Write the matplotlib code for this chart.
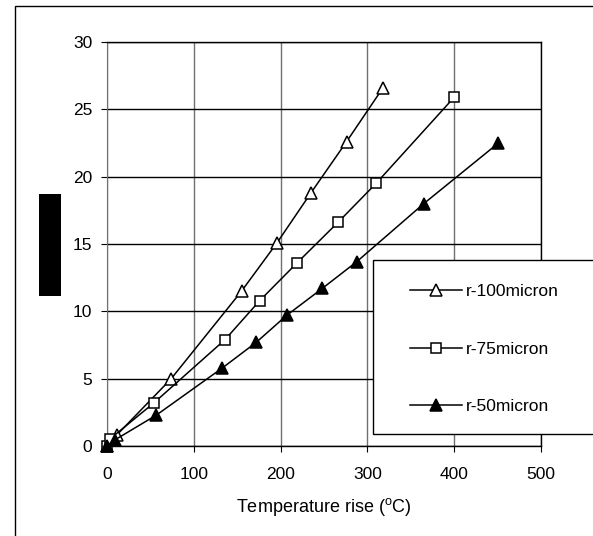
import matplotlib
matplotlib.use('Agg')
import matplotlib.pyplot as plt
from matplotlib.patches import Rectangle

plt.rcParams['font.family'] = ['Liberation Sans', 'DejaVu Sans']
plt.rcParams['mathtext.fontset'] = 'custom'
plt.rcParams['mathtext.rm'] = 'Liberation Sans'

# temperature rise (C) and values
t_100 = [0, 11, 74, 155, 196, 235, 276, 318]
v_100 = [0, 0.8, 5.0, 11.5, 15.1, 18.8, 22.6, 26.6]

t_75 = [0, 3, 54, 136, 176, 219, 266, 310, 400]
v_75 = [0, 0.5, 3.2, 7.9, 10.8, 13.6, 16.6, 19.5, 25.9]

t_50 = [0, 9, 57, 133, 172, 207, 248, 288, 365, 451]
v_50 = [0, 0.45, 2.3, 5.8, 7.7, 9.7, 11.7, 13.7, 18.0, 22.5]

labels = ['r-100micron', 'r-75micron', 'r-50micron']
xticks = [0, 100, 200, 300, 400, 500]
yticks = [0, 5, 10, 15, 20, 25, 30]

W, H = 593, 536
fig = plt.figure(figsize=(W / 100, H / 100), dpi=100)
ax = fig.add_axes([107 / W, 1 - 446 / H, (541 - 107) / W, (446 - 42) / H])

ax.plot(t_100, v_100, '-^', color='black', mfc='white', mec='black', ms=9,
        lw=1.1, mew=1.1, label=labels[0], clip_on=False, zorder=3)
ax.plot(t_75, v_75, '-s', color='black', mfc='white', mec='black', ms=7.5,
        lw=1.1, mew=1.1, label=labels[1], clip_on=False, zorder=3)
ax.plot(t_50, v_50, '-^', color='black', mfc='black', mec='black', ms=9,
        lw=1.1, mew=1.1, label=labels[2], clip_on=False, zorder=3)

ax.set_xlim(0, 500)
ax.set_ylim(0, 30)
ax.set_xticks(xticks)
ax.set_yticks(yticks)
ax.tick_params(direction='out', length=4.5, width=0.8, labelsize=12.5, color='black')
ax.tick_params(axis='x', pad=10.5)
ax.tick_params(axis='y', pad=6)

for x in xticks:
    ax.axvline(x, color='#707070', lw=1.0, zorder=1)
for y in yticks:
    ax.axhline(y, color='black', lw=1.0, zorder=1)

for side in ['top', 'right', 'bottom']:
    ax.spines[side].set_color('black')
    ax.spines[side].set_linewidth(1.0)
ax.spines['left'].set_color('#707070')

ax.set_xlabel(r'Temperature rise ($^{\mathrm{o}}$C)', fontsize=13, labelpad=10)

# outer chart border (cut off at right and bottom)
fig.patches.append(Rectangle((15 / W, -0.05), 1.2, 1 - 6 / H + 0.05,
                             transform=fig.transFigure, fill=False,
                             edgecolor='black', lw=1.0))

# redacted y label
fig.patches.append(Rectangle((39 / W, 1 - 296 / H), 22 / W, 102 / H,
                             transform=fig.transFigure, facecolor='black',
                             edgecolor='none'))

# legend box
ax.add_patch(Rectangle((373 / W, 1 - 434 / H), 0.5, 174 / H,
                       transform=fig.transFigure, facecolor='white',
                       edgecolor='black', lw=1.0, clip_on=False, zorder=4))
leg = ax.legend(loc='upper left', bbox_to_anchor=(403 / W, 1 - 277 / H),
                bbox_transform=fig.transFigure, frameon=False, fontsize=12.5,
                handlelength=3.0, handletextpad=0.2, labelspacing=2.45,
                borderaxespad=0)
leg.set_zorder(5)

fig.savefig('out.png', dpi=100)
